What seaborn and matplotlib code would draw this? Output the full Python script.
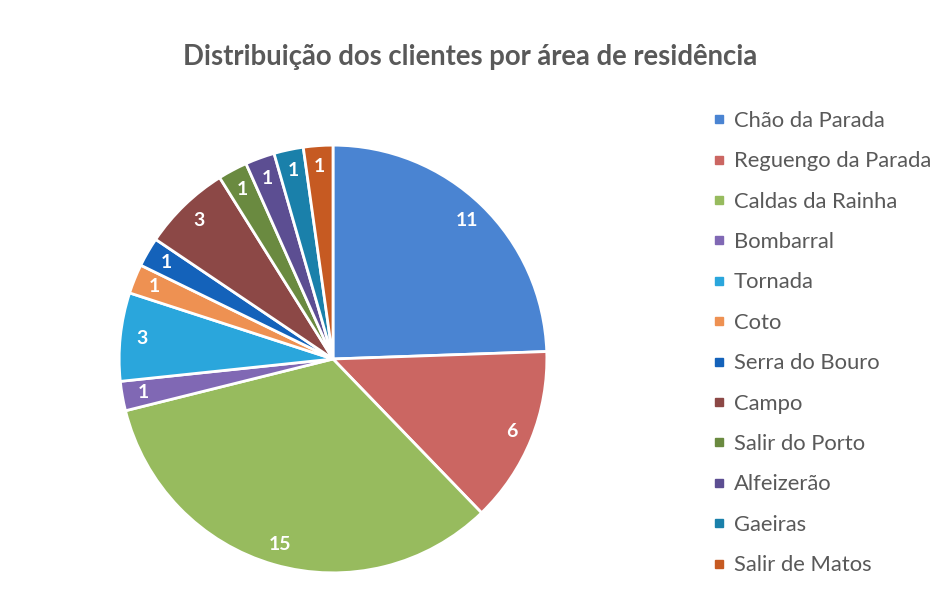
import matplotlib
matplotlib.use("Agg")
import matplotlib.pyplot as plt
from matplotlib.lines import Line2D
import seaborn as sns

categories = ["Chão da Parada", "Reguengo da Parada", "Caldas da Rainha", "Bombarral",
              "Tornada", "Coto", "Serra do Bouro", "Campo", "Salir do Porto",
              "Alfeizerão", "Gaeiras", "Salir de Matos"]
values = [11, 6, 15, 1, 3, 1, 1, 3, 1, 1, 1, 1]
hex_colors = ["#4A84D2", "#CB6662", "#97BB5E", "#8068B4", "#2AA6DC", "#EE9152",
              "#1462BA", "#8C4846", "#6A8A40", "#5C4E92", "#1A80AA", "#C65A22"]
title = "Distribuição dos clientes por área de residência"

sns.set_theme(style="white")
plt.rcParams['font.family'] = ['Lato', 'DejaVu Sans']
palette = sns.color_palette(hex_colors)

W, H = 951, 615
fig = plt.figure(figsize=(W / 100, H / 100), dpi=100)
fig.patch.set_facecolor("white")

cx, cy, r = 333, 359, 216
ax = fig.add_axes([(cx - r) / W, (H - cy - r) / H, 2 * r / W, 2 * r / H])
wedges, texts = ax.pie(values, colors=palette, startangle=90, counterclock=False,
                       radius=1.0, labels=[str(v) for v in values], labeldistance=0.9,
                       wedgeprops=dict(edgecolor="white", linewidth=2),
                       textprops=dict(color="white", fontsize=14, fontweight="bold"))
for t in texts:
    t.set_ha("center")
    t.set_va("center")
ax.set_xlim(-1.01, 1.01)
ax.set_ylim(-1.01, 1.01)
ax.axis("off")

fig.text(470 / W, 1 - 57 / H, title, ha="center", va="center",
         fontsize=19.8, fontweight="bold", color="#595959")

handles = [Line2D([0], [0], marker="s", linestyle="none", markersize=6,
                  markerfacecolor=c, markeredgecolor=c) for c in palette]
leg = fig.legend(handles, categories, loc="upper left",
                 bbox_to_anchor=(705 / W, 1 - 102 / H), frameon=False,
                 fontsize=15.8, labelspacing=0.93, handlelength=0.5,
                 handletextpad=0.4, borderaxespad=0)
for t in leg.get_texts():
    t.set_color("#595959")

fig.savefig("out.png", dpi=100, facecolor="white")
